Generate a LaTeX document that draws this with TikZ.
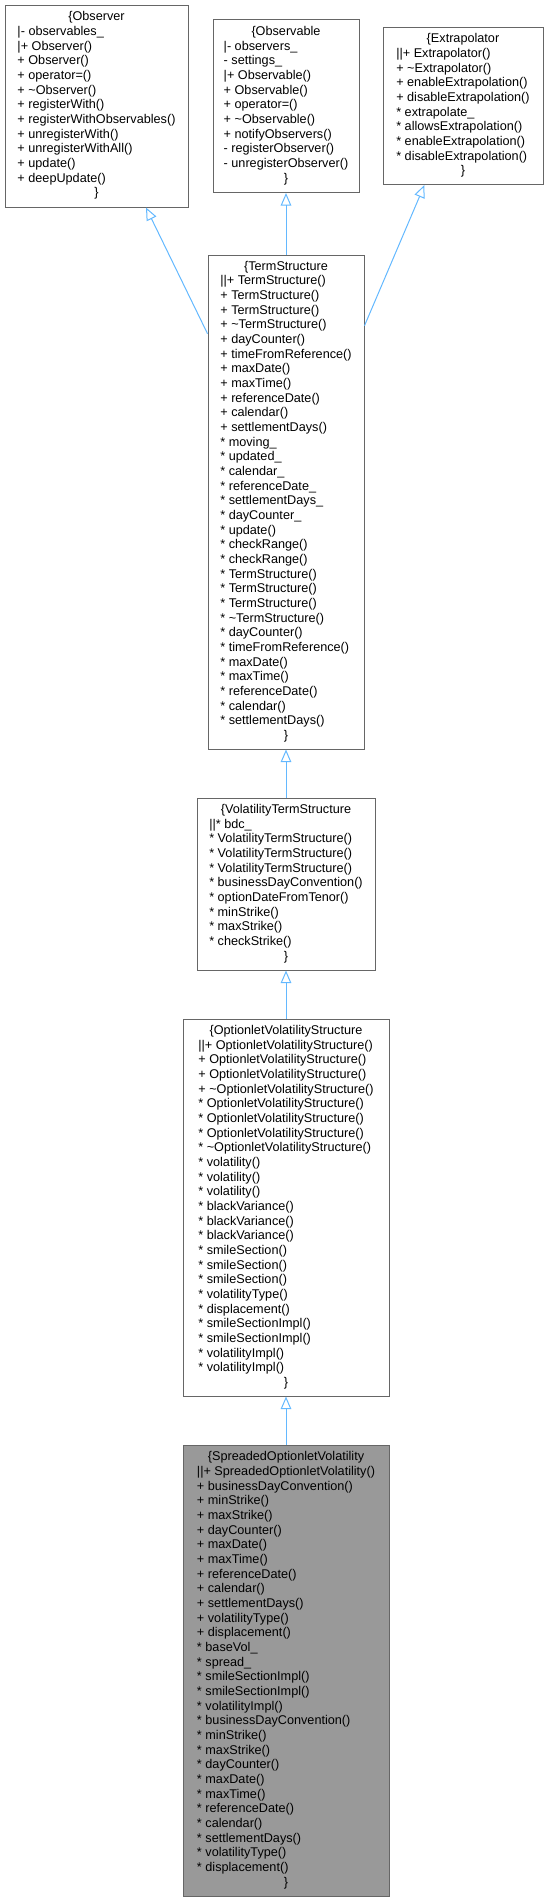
\documentclass[tikz,border=0pt]{standalone}
\usepackage{fontspec}
\setmainfont{Liberation Sans}
\usepackage{xcolor}
\usetikzlibrary{positioning,arrows.meta}

\definecolor{boxedge}{HTML}{666666}
\definecolor{boxfill}{HTML}{999999}
\definecolor{edgeblue}{HTML}{63B8FF}

\newcommand{\umlclass}[2]{%
	\begin{tabular}{@{}l@{}}
		\multicolumn{1}{@{}c@{}}{\{#1}\\
		#2\\
		\multicolumn{1}{@{}c@{}}{\}}
	\end{tabular}}

\begin{document}
\begin{tikzpicture}[
		x=0.75pt, y=-0.75pt,
		node distance=36pt and 18pt,
		classbox/.style={
			draw=boxedge,
			fill=white,
			line width=0.75pt,
			inner xsep=0pt,
			inner ysep=3pt,
			font=\fontsize{9.5}{11}\selectfont
		},
		focusbox/.style={classbox, fill=boxfill},
		inherit/.style={draw=edgeblue, line width=0.75pt, -{Triangle[open, length=9.5pt, width=8pt]}}
	]
		\useasboundingbox (0,0) rectangle (548,1899);

		% top rank
		\node[classbox, minimum width=137.25pt, minimum height=151.5pt] (observer) at (96.5,106) {\umlclass{Observer}{
			|- observables\_\\
			|+ Observer()\\
			+ Observer()\\
			+ operator=()\\
			+ \textasciitilde Observer()\\
			+ registerWith()\\
			+ registerWithObservables()\\
			+ unregisterWith()\\
			+ unregisterWithAll()\\
			+ update()\\
			+ deepUpdate()}};
		\node[classbox, minimum width=109.5pt, minimum height=129.75pt] (observable) at (286,106) {\umlclass{Observable}{
			|- observers\_\\
			- settings\_\\
			|+ Observable()\\
			+ Observable()\\
			+ operator=()\\
			+ \textasciitilde Observable()\\
			+ notifyObservers()\\
			- registerObserver()\\
			- unregisterObserver()}};
		\node[classbox, minimum width=120pt, minimum height=117.75pt] (extrapolator) at (463,106) {\umlclass{Extrapolator}{
			||+ Extrapolator()\\
			+ \textasciitilde Extrapolator()\\
			+ enableExtrapolation()\\
			+ disableExtrapolation()\\
			{*} extrapolate\_\\
			{*} allowsExtrapolation()\\
			{*} enableExtrapolation()\\
			{*} disableExtrapolation()}};

		% inheritance chain
		\node[classbox, minimum width=117pt, minimum height=370.5pt] (termstructure) at (286,502) {\umlclass{TermStructure}{
			||+ TermStructure()\\
			+ TermStructure()\\
			+ TermStructure()\\
			+ \textasciitilde TermStructure()\\
			+ dayCounter()\\
			+ timeFromReference()\\
			+ maxDate()\\
			+ maxTime()\\
			+ referenceDate()\\
			+ calendar()\\
			+ settlementDays()\\
			{*} moving\_\\
			{*} updated\_\\
			{*} calendar\_\\
			{*} referenceDate\_\\
			{*} settlementDays\_\\
			{*} dayCounter\_\\
			{*} update()\\
			{*} checkRange()\\
			{*} checkRange()\\
			{*} TermStructure()\\
			{*} TermStructure()\\
			{*} TermStructure()\\
			{*} \textasciitilde TermStructure()\\
			{*} dayCounter()\\
			{*} timeFromReference()\\
			{*} maxDate()\\
			{*} maxTime()\\
			{*} referenceDate()\\
			{*} calendar()\\
			{*} settlementDays()}};
		\node[classbox, minimum width=133.5pt, minimum height=129pt, below=of termstructure] (voltermstructure) {\umlclass{VolatilityTermStructure}{
			||{*} bdc\_\\
			{*} VolatilityTermStructure()\\
			{*} VolatilityTermStructure()\\
			{*} VolatilityTermStructure()\\
			{*} businessDayConvention()\\
			{*} optionDateFromTenor()\\
			{*} minStrike()\\
			{*} maxStrike()\\
			{*} checkStrike()}};
		\node[classbox, minimum width=154.5pt, minimum height=282.75pt, below=of voltermstructure] (optionletvol) {\umlclass{OptionletVolatilityStructure}{
			||+ OptionletVolatilityStructure()\\
			+ OptionletVolatilityStructure()\\
			+ OptionletVolatilityStructure()\\
			+ \textasciitilde OptionletVolatilityStructure()\\
			{*} OptionletVolatilityStructure()\\
			{*} OptionletVolatilityStructure()\\
			{*} OptionletVolatilityStructure()\\
			{*} \textasciitilde OptionletVolatilityStructure()\\
			{*} volatility()\\
			{*} volatility()\\
			{*} volatility()\\
			{*} blackVariance()\\
			{*} blackVariance()\\
			{*} blackVariance()\\
			{*} smileSection()\\
			{*} smileSection()\\
			{*} smileSection()\\
			{*} volatilityType()\\
			{*} displacement()\\
			{*} smileSectionImpl()\\
			{*} smileSectionImpl()\\
			{*} volatilityImpl()\\
			{*} volatilityImpl()}};
		\node[focusbox, minimum width=154.5pt, minimum height=338.25pt, below=of optionletvol] (spreadedvol) {\umlclass{SpreadedOptionletVolatility}{
			||+ SpreadedOptionletVolatility()\\
			+ businessDayConvention()\\
			+ minStrike()\\
			+ maxStrike()\\
			+ dayCounter()\\
			+ maxDate()\\
			+ maxTime()\\
			+ referenceDate()\\
			+ calendar()\\
			+ settlementDays()\\
			+ volatilityType()\\
			+ displacement()\\
			{*} baseVol\_\\
			{*} spread\_\\
			{*} smileSectionImpl()\\
			{*} smileSectionImpl()\\
			{*} volatilityImpl()\\
			{*} businessDayConvention()\\
			{*} minStrike()\\
			{*} maxStrike()\\
			{*} dayCounter()\\
			{*} maxDate()\\
			{*} maxTime()\\
			{*} referenceDate()\\
			{*} calendar()\\
			{*} settlementDays()\\
			{*} volatilityType()\\
			{*} displacement()}};

		\draw[inherit] (termstructure.115.3) -- (observer.-64.4);
		\draw[inherit] (termstructure.north) -- (observable.south);
		\draw[inherit] (termstructure.66) -- (extrapolator.-116.7);
		\draw[inherit] (voltermstructure) -- (termstructure);
		\draw[inherit] (optionletvol) -- (voltermstructure);
		\draw[inherit] (spreadedvol) -- (optionletvol);
	\end{tikzpicture}
\end{document}
